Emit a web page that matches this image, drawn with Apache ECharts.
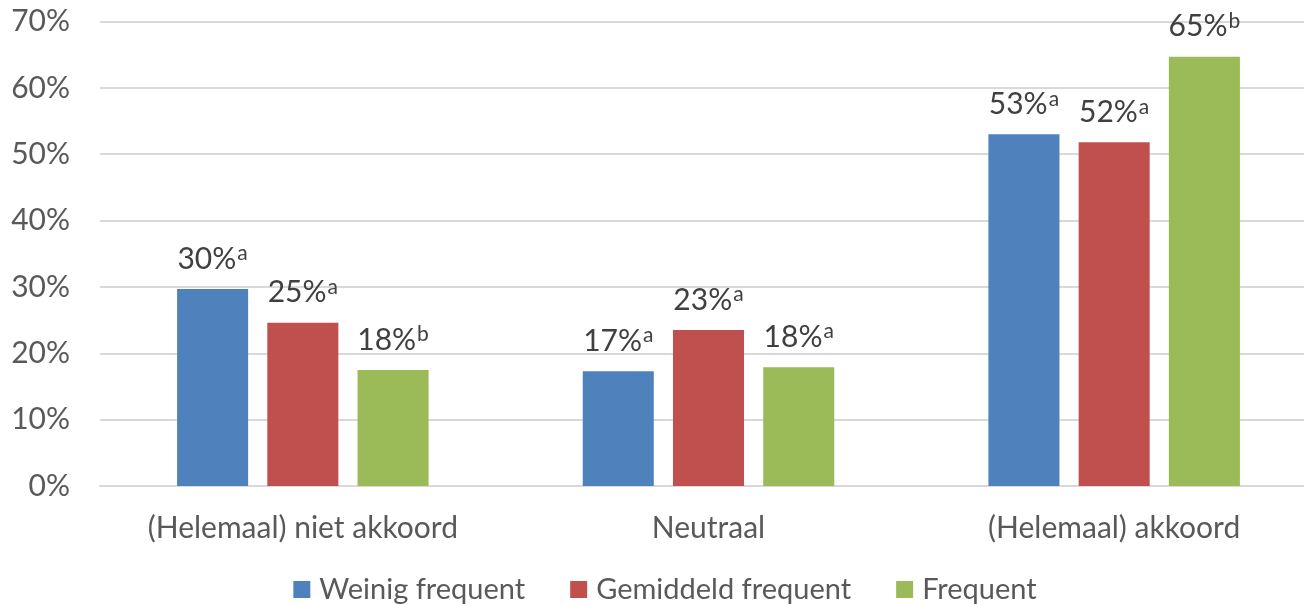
<!DOCTYPE html>
<html><head><meta charset="utf-8">
<script src="https://cdn.jsdelivr.net/npm/echarts@6/dist/echarts.min.js"></script>
<style>html,body{margin:0;padding:0;background:#fff;overflow:hidden}#c{width:1330px;height:605px}</style>
</head><body><div id="c"></div>
<script>
const categories = ['(Helemaal) niet akkoord', 'Neutraal', '(Helemaal) akkoord'];
const seriesNames = ['Weinig frequent', 'Gemiddeld frequent', 'Frequent'];
const weinig = [29.7, 17.3, 53.0];
const gemiddeld = [24.6, 23.5, 51.8];
const frequent = [17.5, 17.9, 64.7];
const weinigLabels = ['30%', '17%', '53%'];
const gemiddeldLabels = ['25%', '23%', '52%'];
const frequentLabels = ['18%', '18%', '65%'];
const weinigSup = ['a', 'a', 'a'];
const gemiddeldSup = ['a', 'a', 'a'];
const frequentSup = ['b', 'a', 'b'];
const yTicks = [0, 10, 20, 30, 40, 50, 60, 70];
const colors = ['#4F81BD', '#C0504D', '#9BBB59'];
const FONT = 'Lato';

function mk(name, data, labels, sups, color) {
  return {
    name, type: 'bar', data,
    itemStyle: { color },
    barGap: '27%', barCategoryGap: '38%',
    label: {
      show: true, position: 'top', distance: 14,
      formatter: p => '{v|' + labels[p.dataIndex] + '}{s|' + sups[p.dataIndex] + '}',
      rich: {
        v: { fontFamily: FONT, fontSize: 30, color: '#404040', lineHeight: 32 },
        s: { fontFamily: FONT, fontSize: 21, color: '#404040', verticalAlign: 'top', lineHeight: 32, padding: [0, 0, 14, 1] }
      }
    }
  };
}

const chart = echarts.init(document.getElementById('c'));
chart.setOption({
  animation: false,
  color: colors,
  grid: { left: 100, top: 21.5, width: 1217, height: 464.5, containLabel: false },
  legend: {
    top: 570, left: 'center', itemWidth: 17, itemHeight: 17, itemGap: 45,
    icon: 'rect',
    textStyle: { fontFamily: FONT, fontSize: 29, color: '#595959', padding: [0, 0, 0, 4] },
    data: seriesNames
  },
  xAxis: {
    type: 'category', data: categories,
    axisLine: { lineStyle: { color: '#D9D9D9', width: 2 } },
    axisTick: { show: false },
    axisLabel: { fontFamily: FONT, fontSize: 30, color: '#595959', margin: 27 }
  },
  yAxis: {
    type: 'value', min: yTicks[0], max: yTicks[yTicks.length - 1], interval: 10,
    axisLine: { show: false }, axisTick: { show: false },
    splitLine: { lineStyle: { color: '#D9D9D9', width: 2 } },
    axisLabel: { fontFamily: FONT, fontSize: 30, color: '#595959', margin: 30, formatter: v => v + '%' }
  },
  series: [
    mk(seriesNames[0], weinig, weinigLabels, weinigSup, colors[0]),
    mk(seriesNames[1], gemiddeld, gemiddeldLabels, gemiddeldSup, colors[1]),
    mk(seriesNames[2], frequent, frequentLabels, frequentSup, colors[2])
  ]
});
</script></body></html>
